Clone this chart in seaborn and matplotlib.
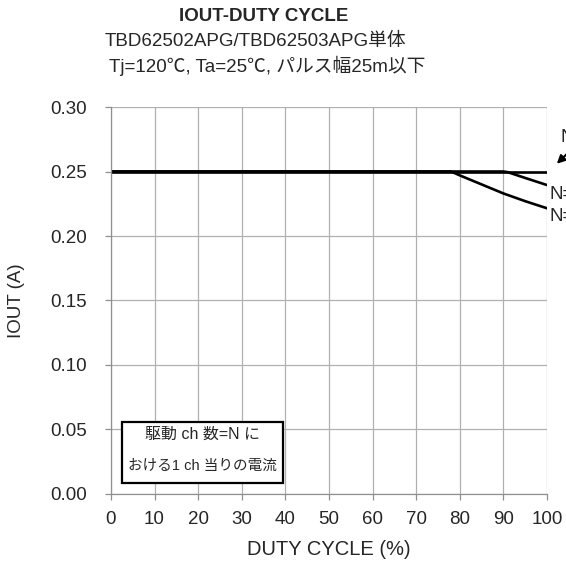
import matplotlib
matplotlib.use("Agg")
import matplotlib.pyplot as plt
from matplotlib.patches import Rectangle
import pandas as pd
import seaborn as sns

# duty cycle (%) vs IOUT (A), one curve per channel-count case
duty_n1 = [0, 100]
iout_n1 = [0.250, 0.250]

duty_n2 = [0, 90, 91, 95, 100]
iout_n2 = [0.250, 0.250, 0.2495, 0.245, 0.2395]

duty_n3 = [0, 78, 80, 85, 90, 95, 100]
iout_n3 = [0.250, 0.250, 0.247, 0.240, 0.233, 0.227, 0.2215]

curve_labels = ["N=1", "N=6", "N=7"]

x_ticks = [0, 10, 20, 30, 40, 50, 60, 70, 80, 90, 100]
y_ticks = [0.00, 0.05, 0.10, 0.15, 0.20, 0.25, 0.30]

sns.set_style("white")
plt.rcParams['font.family'] = ['Liberation Sans', 'Noto Sans CJK JP', 'DejaVu Sans']

df = pd.concat([
    pd.DataFrame({'duty': duty_n1, 'iout': iout_n1, 'N': curve_labels[0]}),
    pd.DataFrame({'duty': duty_n2, 'iout': iout_n2, 'N': curve_labels[1]}),
    pd.DataFrame({'duty': duty_n3, 'iout': iout_n3, 'N': curve_labels[2]}),
])

fig = plt.figure(figsize=(5.66, 5.65), dpi=100)
ax = fig.add_axes([0.196, 0.1257, 0.7704, 0.6849])

sns.lineplot(data=df, x='duty', y='iout', hue='N',
             palette=['black'] * 3, linewidth=1.9, legend=False, ax=ax)

ax.set_xlim(0, 100)
ax.set_ylim(0, 0.30)
ax.set_xticks(x_ticks)
ax.set_yticks(y_ticks)
ax.set_yticklabels([f"{v:.2f}" for v in y_ticks])
ax.grid(True, color='#b0b0b0', linewidth=0.9)
for s in ['top', 'right']:
    ax.spines[s].set_visible(False)
for s in ['left', 'bottom']:
    ax.spines[s].set_color('#909090')
    ax.spines[s].set_linewidth(0.9)
ax.tick_params(axis='both', direction='out', length=4.3, width=0.9,
               color='#909090', labelsize=13.5, left=True, bottom=True)
ax.tick_params(axis='y', pad=13)
ax.tick_params(axis='x', pad=8)
ax.set_xlabel("DUTY CYCLE (%)", fontsize=14.5)
ax.set_ylabel("IOUT (A)", fontsize=13.5)
ax.yaxis.set_label_coords(-0.197, 0.5)
ax.xaxis.set_label_coords(0.5, -0.118)

# curve labels at the right edge (cut off by the figure border like the original)
ax.text(103.2, 0.276, curve_labels[0], fontsize=13.5, va='center', ha='left', clip_on=False)
ax.text(100.5, 0.232, curve_labels[1], fontsize=13.5, va='center', ha='left', clip_on=False)
ax.text(100.5, 0.2155, curve_labels[2], fontsize=13.5, va='center', ha='left', clip_on=False)
ax.annotate("", xy=(101.8, 0.2545), xytext=(106.5, 0.27),
            arrowprops=dict(arrowstyle='-|>', color='black', lw=1.5, mutation_scale=12),
            annotation_clip=False)

# note box
ax.add_patch(Rectangle((2.5, 0.0085), 36.9, 0.0473, facecolor='white',
                       edgecolor='black', linewidth=1.6, zorder=5))
ax.text(20.9, 0.0465, "駆動 ch 数=N に", fontsize=11.5, ha='center', va='center', zorder=6)
ax.text(20.9, 0.0220, "おける1 ch 当りの電流", fontsize=10.5, ha='center', va='center', zorder=6)

fig.text(0.465, 0.970, "IOUT-DUTY CYCLE", fontsize=13.5, fontweight='bold',
         ha='center', va='center')
fig.text(0.452, 0.926, "TBD62502APG/TBD62503APG単体", fontsize=13.5,
         ha='center', va='center')
fig.text(0.472, 0.883, "Tj=120℃, Ta=25℃, パルス幅25m以下", fontsize=13.5,
         ha='center', va='center')

fig.savefig("out.png", dpi=100)
